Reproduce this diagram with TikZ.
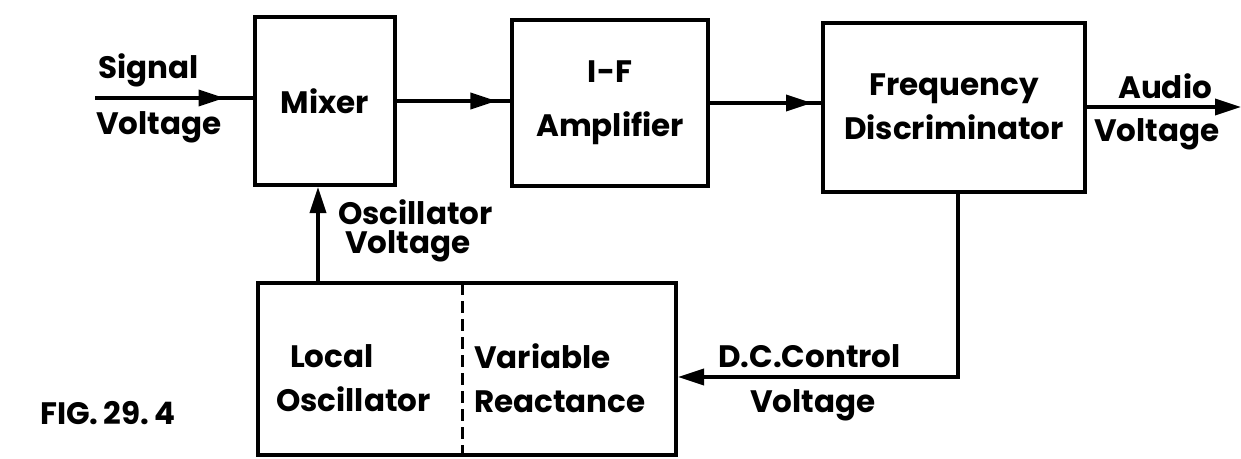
\documentclass[tikz,border=0pt]{standalone}
\usepackage{fontspec}
\setmainfont{Poppins}
\usetikzlibrary{arrows.meta,decorations.markings,calc}
\begin{document}
\begin{tikzpicture}[x=1pt,y=-1pt,
  every node/.style={font=\fontsize{31}{44}\selectfont\bfseries},
  blk/.style={draw,line width=4pt,inner sep=0pt,align=center},
  wire/.style={line width=3.5pt},
  tip/.style={-{Triangle[length=26pt,width=16pt]}},
  midtip/.style={postaction={decorate},decoration={markings,mark=at position #1 with {\arrow{Triangle[length=26pt,width=16pt]}}}},
  lbl/.style={anchor=west,inner sep=0pt,align=left}]
\useasboundingbox (0,0) rectangle (1241,458);
% blocks
\node[blk,minimum width=140pt,minimum height=168pt] (mixer) at (325,101) {Mixer};
\node[blk,minimum width=196pt,minimum height=166pt] (ifa) at (610,103) {I-F\\[10pt]Amplifier};
\node[blk,minimum width=262pt,minimum height=169pt] (fd) at (954,107) {Frequency\\Discriminator};
\node[blk,minimum width=418pt,minimum height=172pt] (lo) at (467,369) {};
\coordinate (dtop) at (462,283);
\coordinate (dbot) at (462,455);
\draw[line width=3pt,dash pattern=on 12pt off 6pt] (dtop) -- (dbot);
\node[lbl] (lol) at (276,378) {\hspace*{14pt}Local\\Oscillator};
\node[lbl] (vr) at (474,378) {Variable\\Reactance};
% connectors
\coordinate (sigin) at (95,98);
\draw[wire,midtip=0.82] (sigin) -- (sigin -| mixer.west);
\draw[wire,midtip=0.88] (mixer.east) -- (mixer.east -| ifa.west);
\draw[wire,midtip=0.92] (ifa.east) -- (ifa.east -| fd.west);
\coordinate (out) at (1241,107);
\draw[wire,tip] (fd.east) -- (out);
\coordinate (fbc) at (958,377);
\draw[wire,tip] (fd.south -| fbc) -- (fbc) -- (lo.east |- fbc);
\coordinate (osc) at (318,283);
\draw[wire,tip] (osc) -- (osc |- mixer.south);
% labels
\node[lbl] (sig) at (98,70) {Signal};
\node[lbl] (sigv) at (96,127) {Voltage};
\node[lbl] (aud) at (1118,86) {Audio};
\node[lbl] (audv) at (1094,134) {Voltage};
\node[lbl] (oscl) at (338,212) {Oscillator};
\node[lbl] (oscv) at (345,246) {Voltage};
\node[lbl] (dcl) at (718,356) {D.C.Control};
\node[lbl] (dcv) at (750,405) {Voltage};
\node[lbl] (fig) at (40,413) {FIG.\,29.\,4};
\end{tikzpicture}
\end{document}
